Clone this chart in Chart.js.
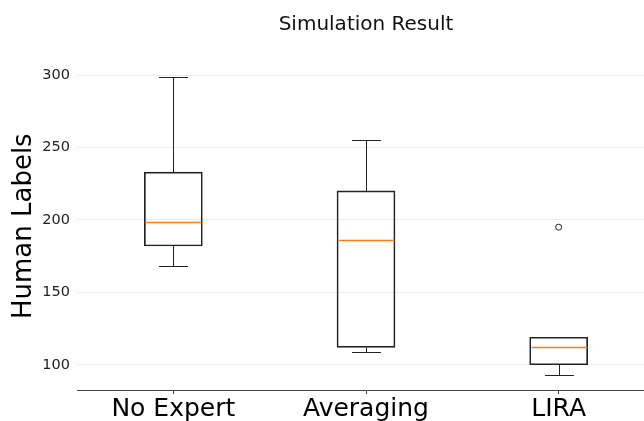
<!DOCTYPE html>
<html>
<head>
<meta charset="utf-8">
<script src="https://cdn.jsdelivr.net/npm/chart.js@4.4.0/dist/chart.umd.min.js"></script>
<style>
  html, body { margin: 0; padding: 0; overflow: hidden; background: #fff; }
  #wrap { width: 644px; height: 421px; overflow: hidden; }
</style>
</head>
<body>
<div id="wrap"><canvas id="box" width="660" height="421"></canvas></div>
<script>
let categories = ["No Expert", "Averaging", "LIRA"];
let whiskerLow = [168, 108.5, 93];
let q1 = [182, 112, 100];
let median = [198.5, 186, 112];
let q3 = [233, 220, 119];
let whiskerHigh = [298.5, 255, 119];
let outliers = [[], [], [195]];
let yTicks = [100, 150, 200, 250, 300];

const positions = categories.map((c, i) => i + 1);

const boxData = positions.map((p, i) => ({ x: p, y: [q1[i], q3[i]] }));
const outlierData = [];
outliers.forEach((list, i) => {
  list.forEach((v) => outlierData.push({ x: positions[i], y: v }));
});

// whiskers, caps and medians drawn on top of the boxes
const boxExtras = {
  id: "boxExtras",
  afterDraw(chart) {
    const ctx = chart.ctx;
    const xs = chart.scales.x;
    const ys = chart.scales.y;
    const unit = xs.getPixelForValue(2) - xs.getPixelForValue(1);
    const boxHalf = unit * 0.15;
    const capHalf = unit * 0.075;
    ctx.save();
    positions.forEach((p, i) => {
      const cx = Math.round(xs.getPixelForValue(p)) + 0.5;
      const line = (x1, y1, x2, y2, color, w) => {
        ctx.strokeStyle = color;
        ctx.lineWidth = w;
        ctx.beginPath();
        ctx.moveTo(x1, y1);
        ctx.lineTo(x2, y2);
        ctx.stroke();
      };
      const yLo = Math.round(ys.getPixelForValue(whiskerLow[i])) + 0.5;
      const yQ1 = ys.getPixelForValue(q1[i]);
      const yQ3 = ys.getPixelForValue(q3[i]);
      const yHi = Math.round(ys.getPixelForValue(whiskerHigh[i])) + 0.5;
      const yMed = Math.round(ys.getPixelForValue(median[i])) + 0.5;
      if (whiskerLow[i] < q1[i]) {
        line(cx, yQ1, cx, yLo, "#222", 1);
        line(cx - capHalf, yLo, cx + capHalf, yLo, "#222", 1);
      }
      if (whiskerHigh[i] > q3[i]) {
        line(cx, yQ3, cx, yHi, "#222", 1);
        line(cx - capHalf, yHi, cx + capHalf, yHi, "#222", 1);
      }
      line(cx - boxHalf + 1, yMed, cx + boxHalf - 1, yMed, "#ff7f0e", 1.3);
    });
    ctx.restore();
  },
};

new Chart("box", {
  type: "bar",
  data: {
    datasets: [
      {
        type: "bar",
        data: boxData,
        backgroundColor: "rgba(0,0,0,0)",
        borderColor: "#222",
        borderWidth: 1,
        borderSkipped: false,
        barThickness: 58,
      },
      {
        type: "scatter",
        data: outlierData,
        pointRadius: 3,
        pointBackgroundColor: "rgba(0,0,0,0)",
        pointBorderColor: "#222",
        pointBorderWidth: 1,
      },
    ],
  },
  plugins: [boxExtras],
  options: {
    responsive: false,
    animation: false,
    layout: { padding: { left: 0, right: 5, top: 0, bottom: 0 } },
    plugins: {
      legend: { display: false },
      tooltip: { enabled: false },
      title: {
        display: true,
        fullSize: false,
        text: "Simulation Result",
        color: "#111",
        font: { family: "DejaVu Sans", size: 20, weight: "normal" },
        padding: { top: 13, bottom: 25.4 },
      },
    },
    scales: {
      x: {
        type: "linear",
        min: 0.5,
        max: 3.5,
        offset: false,
        afterBuildTicks: (scale) => {
          scale.ticks = positions.map((v) => ({ value: v }));
        },
        afterFit: (scale) => {
          scale.height = 31;
        },
        ticks: {
          callback: (v) => categories[v - 1],
          color: "#000",
          font: { family: "DejaVu Sans", size: 25 },
          padding: 0,
          maxRotation: 0,
          autoSkip: false,
        },
        grid: {
          offset: false,
          drawOnChartArea: false,
          drawTicks: true,
          tickLength: 4,
          color: "#444",
        },
        border: { display: true, color: "#444", width: 1 },
      },
      y: {
        min: 82.6,
        max: 308.7,
        afterBuildTicks: (scale) => {
          scale.ticks = yTicks.map((v) => ({ value: v }));
        },
        afterFit: (scale) => {
          scale.width = 77;
        },
        ticks: {
          color: "#222",
          font: { family: "DejaVu Sans", size: 14.5 },
          padding: 7,
        },
        grid: { color: "#ececec", lineWidth: 1, drawTicks: false },
        border: { display: false },
        title: {
          display: true,
          text: "Human Labels",
          color: "#000",
          font: { family: "DejaVu Sans", size: 26 },
          padding: { top: 9, bottom: 0 },
        },
      },
    },
  },
});
</script>
</body>
</html>
